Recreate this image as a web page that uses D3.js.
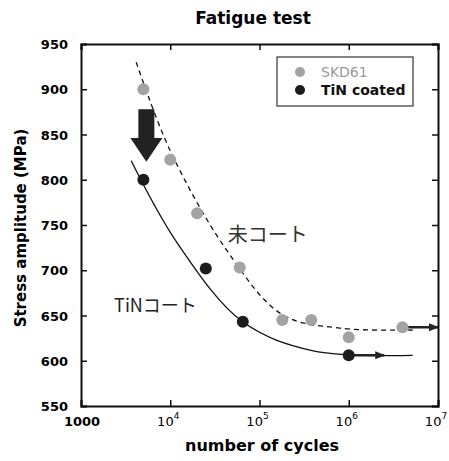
<!DOCTYPE html>
<html>
<head>
<meta charset="utf-8">
<script src="https://cdn.jsdelivr.net/npm/d3@7"></script>
<style>
    body { margin: 0; background: #fff; }
    text { font-family: "DejaVu Sans", sans-serif; }
</style>
</head>
<body>
<svg class="chart" width="449" height="461"></svg>
<script>
// data
var skdCycles = [5000, 10000, 20000, 60000, 180000, 380000, 1000000, 4000000];
var skdStress = [900, 822, 763, 703, 645, 645, 626, 637];
var tinCycles = [5000, 25000, 65000, 1000000];
var tinStress = [800, 702, 643, 606];

// fitted trend lines (hand read)
var skdFitCycles = [4150, 10000, 43000, 180000, 800000, 5200000];
var skdFitStress = [930, 832, 722, 651, 636, 634];
var tinFitCycles = [3650, 12000, 65000, 400000, 5200000];
var tinFitStress = [821, 730, 643, 611, 606];

var xTicks = [1000, 1e4, 1e5, 1e6, 1e7];
var yTicks = [550, 600, 650, 700, 750, 800, 850, 900, 950];

(function () {
    var margin = { left: 81, right: 11, top: 44, bottom: 55 };
    var width = 449, height = 461;

    var x = d3.scaleLog().domain([1000, 1e7]).range([margin.left, width - margin.right]);
    var y = d3.scaleLinear().domain([550, 950]).range([height - margin.bottom, margin.top]);

    var svg = d3.select('.chart');

    // title
    svg.append('text')
        .attr('x', 253).attr('y', 24)
        .attr('text-anchor', 'middle')
        .style('font-size', '17px').style('font-weight', 'bold')
        .text('Fatigue test');

    // axes, ticks pointing inward on all sides
    var g = svg.append('g');
    g.append('g').attr('transform', 'translate(0,' + y(550) + ')')
        .call(d3.axisBottom(x).tickValues(xTicks).tickSize(-6).tickFormat(''));
    g.append('g').attr('transform', 'translate(0,' + y(950) + ')')
        .call(d3.axisTop(x).tickValues(xTicks).tickSize(-6).tickFormat(''));
    g.append('g').attr('transform', 'translate(' + x(1000) + ',0)')
        .call(d3.axisLeft(y).tickValues(yTicks).tickSize(-6).tickFormat(''));
    g.append('g').attr('transform', 'translate(' + x(1e7) + ',0)')
        .call(d3.axisRight(y).tickValues(yTicks).tickSize(-6).tickFormat(''));
    g.selectAll('.domain').attr('stroke', '#111').attr('stroke-width', 2);
    g.selectAll('.tick line').attr('stroke', '#111').attr('stroke-width', 1.5);

    // y tick labels
    svg.selectAll('.ylab').data(yTicks).enter().append('text')
        .attr('x', x(1000) - 13).attr('y', function (d) { return y(d) + 5; })
        .attr('text-anchor', 'end')
        .style('font-size', '13px').style('font-weight', 'bold')
        .text(function (d) { return d; });

    // x tick labels
    var xl = svg.selectAll('.xlab').data(xTicks).enter().append('text')
        .attr('y', y(550) + 20)
        .attr('text-anchor', 'middle')
        .style('font-size', '13px').style('font-weight', 'bold');
    xl.filter(function (d) { return d === 1000; })
        .attr('x', function (d) { return x(d) + 1; })
        .text('1000');
    xl.filter(function (d) { return d !== 1000; })
        .attr('x', function (d) { return x(d) - 2; })
        .each(function (d) {
            var t = d3.select(this);
            t.append('tspan').style('font-weight', 'normal').text('10');
            t.append('tspan').attr('dy', -7).style('font-size', '9px').style('font-weight', 'normal')
                .text(Math.round(Math.log10(d)));
        });

    // axis titles
    svg.append('text')
        .attr('x', 262).attr('y', 451)
        .attr('text-anchor', 'middle')
        .style('font-size', '16px').style('font-weight', 'bold')
        .text('number of cycles');
    svg.append('text')
        .attr('transform', 'translate(26,' + 228 + ') rotate(-90)')
        .attr('text-anchor', 'middle')
        .style('font-size', '15px').style('font-weight', 'bold')
        .text('Stress amplitude  (MPa)');

    // trend lines
    var line = d3.line().curve(d3.curveCatmullRom)
        .x(function (d) { return x(d[0]); })
        .y(function (d) { return y(d[1]); });
    svg.append('path')
        .attr('d', line(d3.zip(skdFitCycles, skdFitStress)))
        .attr('fill', 'none').attr('stroke', '#111').attr('stroke-width', 1.3)
        .attr('stroke-dasharray', '5,4');
    svg.append('path')
        .attr('d', line(d3.zip(tinFitCycles, tinFitStress)))
        .attr('fill', 'none').attr('stroke', '#111').attr('stroke-width', 1.3);

    // run-out arrows
    var defs = svg.append('defs');
    defs.append('marker').attr('id', 'head')
        .attr('viewBox', '0 0 10 10').attr('refX', 9).attr('refY', 5)
        .attr('markerWidth', 4.5).attr('markerHeight', 4).attr('orient', 'auto')
        .append('path').attr('d', 'M0,1L10,5L0,9Z').attr('fill', '#222');
    function runout(c, s, c2) {
        svg.append('line')
            .attr('x1', x(c)).attr('x2', x(c2))
            .attr('y1', y(s)).attr('y2', y(s))
            .attr('stroke', '#222').attr('stroke-width', 2.5)
            .attr('marker-end', 'url(#head)');
    }
    runout(skdCycles[7], skdStress[7], 1e7);
    runout(tinCycles[3], tinStress[3], 2.5e6);

    // points
    svg.selectAll('.skd').data(d3.zip(skdCycles, skdStress)).enter().append('circle')
        .attr('cx', function (d) { return x(d[0]); })
        .attr('cy', function (d) { return y(d[1]); })
        .attr('r', 6).attr('fill', '#a3a3a3');
    svg.selectAll('.tin').data(d3.zip(tinCycles, tinStress)).enter().append('circle')
        .attr('cx', function (d) { return x(d[0]); })
        .attr('cy', function (d) { return y(d[1]); })
        .attr('r', 6).attr('fill', '#1c1c1c');

    // big down arrow between the two series
    var ax = x(5400), at = y(878), ah = y(846), ab = y(820);
    svg.append('path')
        .attr('d', 'M' + (ax - 8) + ',' + at + 'H' + (ax + 8) + 'V' + ah + 'H' + (ax + 16)
            + 'L' + ax + ',' + ab + 'L' + (ax - 16) + ',' + ah + 'H' + (ax - 8) + 'Z')
        .attr('fill', '#222');

    // annotations
    svg.append('text')
        .attr('x', x(44000)).attr('y', y(731))
        .style('font-family', '"Noto Sans CJK JP", sans-serif')
        .style('font-size', '20px').attr('fill', '#333')
        .text('未コート');
    svg.append('text')
        .attr('x', x(2350)).attr('y', y(654))
        .style('font-family', '"Noto Sans CJK JP", sans-serif')
        .style('font-size', '18px').attr('fill', '#222')
        .text('TiNコート');

    // legend
    var lg = svg.append('g').attr('transform', 'translate(277,57)');
    lg.append('rect').attr('width', 136).attr('height', 49)
        .attr('fill', '#fff').attr('stroke', '#333').attr('stroke-width', 1.2);
    lg.append('circle').attr('cx', 23).attr('cy', 15).attr('r', 5).attr('fill', '#a3a3a3');
    lg.append('circle').attr('cx', 23).attr('cy', 33).attr('r', 5).attr('fill', '#1c1c1c');
    lg.append('text').attr('x', 44).attr('y', 20)
        .style('font-size', '14px').attr('fill', '#999').text('SKD61');
    lg.append('text').attr('x', 44).attr('y', 38)
        .style('font-size', '14px').style('font-weight', 'bold').attr('fill', '#111').text('TiN coated');
}());
</script>
</body>
</html>
